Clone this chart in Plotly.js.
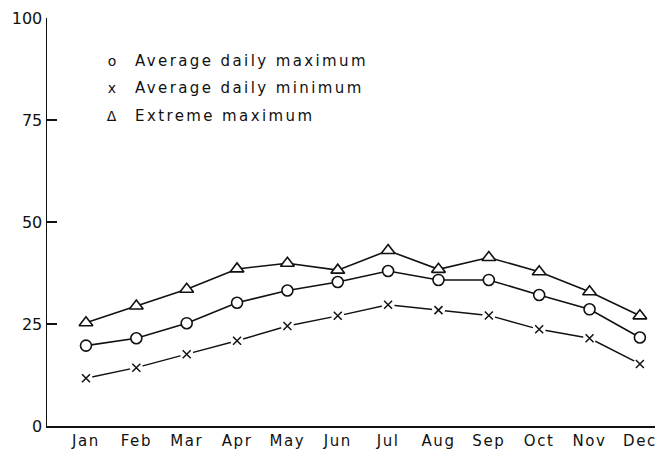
<!DOCTYPE html>
<html>
<head>
<meta charset="utf-8">
<script src="https://cdn.plot.ly/plotly-3.0.1.min.js"></script>
<style>
html,body{margin:0;padding:0;background:#fff;}
#chart{width:659px;height:457px;}
#chart .annotation-text{letter-spacing:2.4px;}
#chart .xtick text{letter-spacing:1.6px;}
</style>
</head>
<body>
<div id="chart"></div>
<script>
const months = ["Jan","Feb","Mar","Apr","May","Jun","Jul","Aug","Sep","Oct","Nov","Dec"];
const avgDailyMax = [19.7, 21.5, 25.2, 30.2, 33.2, 35.3, 38.0, 35.8, 35.8, 32.1, 28.6, 21.7];
const avgDailyMin = [11.7, 14.3, 17.6, 20.9, 24.5, 27.0, 29.7, 28.4, 27.1, 23.7, 21.5, 15.2];
const extremeMax  = [25.3, 29.4, 33.5, 38.5, 39.9, 38.2, 43.0, 38.4, 41.3, 37.8, 32.9, 27.0];
const yTicks = [0, 25, 50, 75, 100];
const legendLabels = ["Average daily maximum", "Average daily minimum", "Extreme maximum"];
const legendSymbols = ["o", "x", "\u0394"];

const idx = months.map((m, i) => i);
const black = "#111";
const traces = [
  {x: idx, y: extremeMax, mode: "lines+markers", line: {color: black, width: 1.6},
   marker: {symbol: "triangle-up", size: 12, color: "#fff", line: {color: black, width: 1.6}}},
  {x: idx, y: avgDailyMax, mode: "lines+markers", line: {color: black, width: 1.6},
   marker: {symbol: "circle", size: 11, color: "#fff", line: {color: black, width: 1.6}}},
  {x: idx, y: avgDailyMin, mode: "lines", line: {color: black, width: 1.4}},
  {x: idx, y: avgDailyMin, mode: "markers",
   marker: {symbol: "circle", size: 13, color: "#fff", line: {width: 0}}},
  {x: idx, y: avgDailyMin, mode: "markers",
   marker: {symbol: "x-thin", size: 8, color: black, line: {color: black, width: 1.5}}}
];

const rowY = [0.895, 0.828, 0.760];
const annotations = [];
legendLabels.forEach((lab, i) => {
  annotations.push({xref: "paper", yref: "paper", x: 0.109, y: rowY[i], xanchor: "center", yanchor: "middle",
    text: legendSymbols[i], showarrow: false, font: {family: "DejaVu Sans", size: 14, color: black}});
  annotations.push({xref: "paper", yref: "paper", x: 0.141, y: rowY[i], xanchor: "left", yanchor: "middle",
    align: "left", text: lab, showarrow: false, font: {family: "DejaVu Sans", size: 15, color: black}});
});

const layout = {
  width: 659, height: 457,
  margin: {l: 47, r: 4, t: 18, b: 31},
  paper_bgcolor: "#fff", plot_bgcolor: "#fff",
  showlegend: false,
  font: {family: "DejaVu Sans", size: 15, color: black},
  xaxis: {range: [-0.774, 11.3], tickvals: idx, ticktext: months, showgrid: false, zeroline: false,
          showline: true, linecolor: black, linewidth: 1.5, ticks: "", ticklen: 0,
          tickfont: {family: "DejaVu Sans", size: 15, color: black}},
  yaxis: {range: [0, 100], tickvals: yTicks, ticktext: yTicks.map(String), showgrid: false, zeroline: false,
          showline: true, linecolor: black, linewidth: 1.5, ticks: "inside", ticklen: 10, tickwidth: 1.5, tickcolor: black,
          tickfont: {family: "DejaVu Sans", size: 16, color: black}},
  annotations: annotations
};
Plotly.newPlot("chart", traces, layout, {displayModeBar: false, staticPlot: true});
</script>
</body>
</html>
